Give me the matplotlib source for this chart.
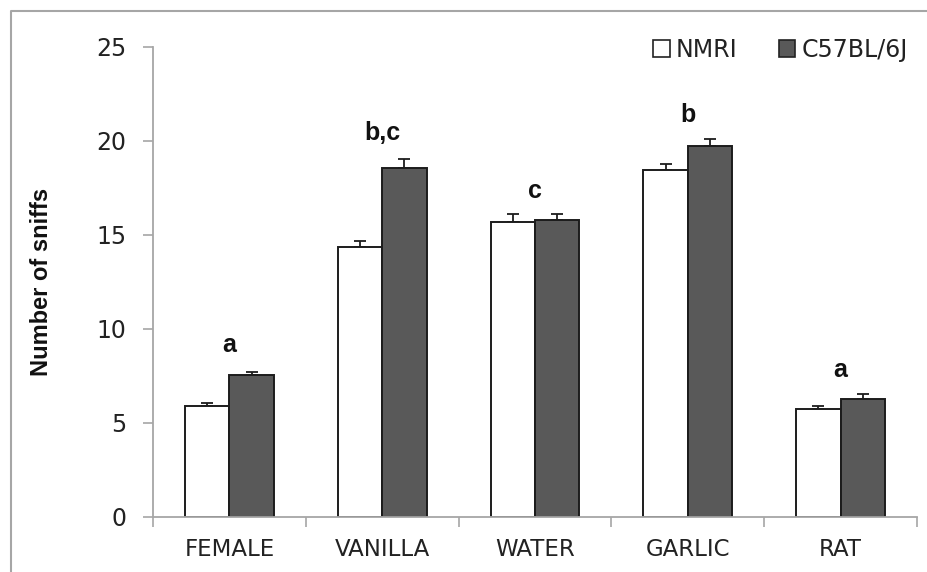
import matplotlib
matplotlib.use("Agg")
import matplotlib.pyplot as plt
from matplotlib.lines import Line2D
from matplotlib.patches import Patch
import numpy as np

categories = ["FEMALE", "VANILLA", "WATER", "GARLIC", "RAT"]
nmri = [5.92, 14.35, 15.71, 18.44, 5.72]
nmri_err = [0.15, 0.32, 0.43, 0.36, 0.18]
c57 = [7.55, 18.55, 15.78, 19.72, 6.26]
c57_err = [0.17, 0.50, 0.36, 0.36, 0.26]
letters = ["a", "b,c", "c", "b", "a"]
letter_y = [8.8, 20.05, 16.95, 21.0, 7.45]
series_names = ["NMRI", "C57BL/6J"]

narrow = ["Liberation Sans Narrow", "DejaVu Sans"]
bold_font = ["Liberation Sans", "DejaVu Sans"]

W, H = 927, 572
fig = plt.figure(figsize=(W / 100, H / 100), dpi=100)
ax = fig.add_axes([153 / W, 1 - 517 / H, (917 - 153) / W, (517 - 47) / H])

x = np.arange(len(categories))
bw = 0.29
dark = "#595959"
edge = "#1c1c1c"
axis_gray = "#a6a6a6"

ax.bar(x - bw / 2, nmri, bw, color="white", edgecolor=edge, linewidth=1.4, zorder=2)
ax.bar(x + bw / 2, c57, bw, color=dark, edgecolor=edge, linewidth=1.4, zorder=2)
ax.errorbar(x - bw / 2, nmri, yerr=[np.zeros(len(nmri)), nmri_err], fmt="none",
            ecolor=edge, elinewidth=1.3, capsize=4.3, capthick=1.3, zorder=1)
ax.errorbar(x + bw / 2, c57, yerr=[np.zeros(len(c57)), c57_err], fmt="none",
            ecolor=edge, elinewidth=1.3, capsize=4.3, capthick=1.3, zorder=1)

for xi, lab, ly in zip(x, letters, letter_y):
    ax.text(xi, ly, lab, ha="center", va="baseline", fontsize=18,
            fontweight="bold", family=bold_font, color="#111111")

ax.set_xlim(-0.5, len(categories) - 0.5)
ax.set_ylim(0, 25)
ax.set_yticks([0, 5, 10, 15, 20, 25])
ax.set_yticklabels(["0", "5", "10", "15", "20", "25"], family=narrow, fontsize=17, color="#222222")
ax.tick_params(axis="y", direction="out", length=7, width=1.2, color=axis_gray, pad=12)

ax.set_xticks(np.arange(-0.5, len(categories), 1.0))
ax.set_xticklabels([])
ax.tick_params(axis="x", which="major", direction="out", length=7.5, width=1.2, color=axis_gray)
ax.set_xticks(x, minor=True)
ax.set_xticklabels(categories, minor=True, family=narrow, fontsize=16.5, color="#222222")
ax.tick_params(axis="x", which="minor", length=0, pad=15)

for s in ["top", "right"]:
    ax.spines[s].set_visible(False)
for s in ["left", "bottom"]:
    ax.spines[s].set_color(axis_gray)
    ax.spines[s].set_linewidth(1.3)

ax.set_ylabel("Number of sniffs", fontsize=17, fontweight="bold", family=bold_font,
              color="#111111")
ax.yaxis.set_label_coords(-(153 - 53) / (917 - 153), 0.5)

handles = [Patch(facecolor="white", edgecolor="#222222", linewidth=1.2),
           Patch(facecolor=dark, edgecolor="#222222", linewidth=1.2)]
leg = ax.legend(handles, series_names, loc="upper right", ncol=2, frameon=False,
                prop={"family": narrow, "size": 17}, handlelength=0.7, handleheight=0.7,
                handletextpad=0.25, columnspacing=1.75, borderaxespad=0.0,
                bbox_to_anchor=(1.0, 1.04))
for t in leg.get_texts():
    t.set_color("#222222")

# outer frame (top and left lines)
fig.add_artist(Line2D([11 / W, 11 / W, 1.0], [0.0, 1 - 11 / H, 1 - 11 / H],
                      transform=fig.transFigure, color=axis_gray, linewidth=1.5))

fig.savefig("out.png", dpi=100)
